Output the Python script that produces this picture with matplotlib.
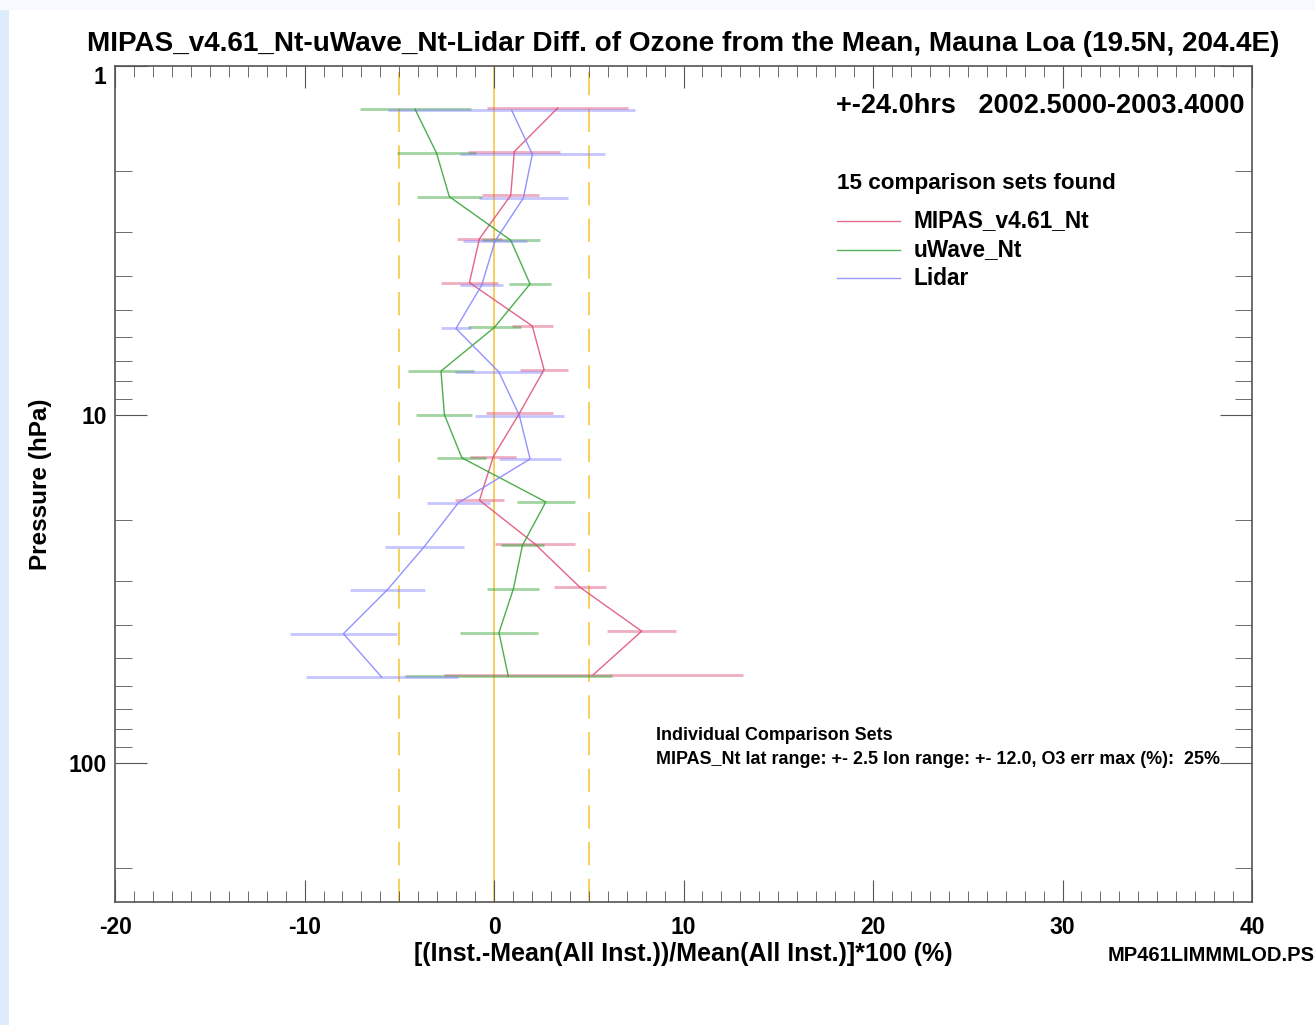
import numpy as np
import matplotlib
matplotlib.use("Agg")
import matplotlib.pyplot as plt
from matplotlib.patches import Rectangle
from matplotlib.ticker import MultipleLocator, LogLocator, NullFormatter, FixedLocator

plt.rcParams['font.family'] = ['Liberation Sans', 'DejaVu Sans']
plt.rcParams['font.weight'] = 'bold'
plt.rcParams['axes.unicode_minus'] = False

# pressure levels (hPa) for each instrument (they differ very slightly)
p_mipas = [1.32, 1.76, 2.35, 3.13, 4.18, 5.57, 7.43, 9.91, 13.2, 17.6, 23.5, 31.3, 41.8, 55.7]
p_uwave = [1.33, 1.78, 2.37, 3.16, 4.22, 5.62, 7.50, 10.0, 13.3, 17.8, 23.7, 31.6, 42.2, 56.2]
p_lidar = [1.34, 1.79, 2.39, 3.18, 4.25, 5.66, 7.55, 10.07, 13.4, 17.9, 23.9, 31.8, 42.5, 56.6]

# % difference from the mean, with half-width of the error bar
mipas = [3.36, 1.07, 0.88, -0.77, -1.30, 2.02, 2.64, 1.34, -0.04, -0.77, 2.16, 4.54, 7.79, 5.24]
mipas_err = [3.72, 2.43, 1.50, 1.21, 1.52, 1.07, 1.25, 1.78, 1.21, 1.28, 2.11, 1.38, 1.82, 7.90]

uwave = [-4.17, -3.03, -2.36, 0.88, 1.90, 0.02, -2.80, -2.62, -1.70, 2.73, 1.50, 1.02, 0.26, 0.75]
uwave_err = [2.93, 2.10, 1.72, 1.52, 1.12, 1.39, 1.76, 1.48, 1.29, 1.52, 1.14, 1.37, 2.07, 5.47]

lidar = [0.93, 2.02, 1.55, 0.05, -0.65, -2.01, 0.26, 1.34, 1.90, -1.88, -3.68, -5.63, -7.95, -5.93]
lidar_err = [6.50, 3.84, 2.37, 1.71, 1.14, 0.77, 2.33, 2.35, 1.63, 1.65, 2.08, 1.98, 2.81, 4.02]

series = [
    ("MIPAS_v4.61_Nt", p_mipas, mipas, mipas_err, "#dd4c72"),
    ("uWave_Nt", p_uwave, uwave, uwave_err, "#2ea02e"),
    ("Lidar", p_lidar, lidar, lidar_err, "#8080ff"),
]

fig = plt.figure(figsize=(13.15, 10.25), dpi=100)
fig.patch.set_facecolor("white")
# light blue strip at the left edge, pale band at the top
fig.patches.append(Rectangle((0, 0), 0.007, 1, transform=fig.transFigure,
                             facecolor="#dcecfb", edgecolor="none", zorder=0))
fig.patches.append(Rectangle((0, 0.99), 1, 0.01, transform=fig.transFigure,
                             facecolor="#f6f9fd", edgecolor="none", zorder=0))

ax = fig.add_axes([0.0875, 0.12, 0.8646, 0.8156])
ax.set_yscale("log")
ax.set_xlim(-20, 40)
ax.set_ylim(250, 1)

# reference lines
ax.axvline(0, color="#f7c740", lw=1.2, zorder=1)
for xv in (-5, 5):
    ax.axvline(xv, color="#f7c740", lw=1.2, ls=(0, (14, 8)), zorder=1)

for name, p, vals, errs, col in series:
    v = np.array(vals)
    e = np.array(errs)
    ax.hlines(p, v - e, v + e, color=col, lw=2.0, alpha=0.45, zorder=2)
    ax.plot(v, p, color=col, lw=1.0, alpha=0.85, zorder=3)

# ticks, IDL-ish
ax.xaxis.set_major_locator(MultipleLocator(10))
ax.xaxis.set_minor_locator(MultipleLocator(1))
ax.yaxis.set_major_locator(FixedLocator([1, 10, 100]))
ax.yaxis.set_minor_locator(LogLocator(base=10, subs=np.arange(2, 10)))
ax.yaxis.set_minor_formatter(NullFormatter())
ax.set_yticklabels(["1", "10", "100"])
ax.tick_params(which="both", direction="in", top=True, right=True, colors="#555555")
ax.tick_params(axis="x", which="major", length=16, labelsize=16.5, labelcolor="black", pad=10)
ax.tick_params(axis="x", which="minor", length=8)
ax.tick_params(axis="y", which="major", length=23, labelsize=16.5, labelcolor="black", pad=6)
ax.tick_params(axis="y", which="minor", length=12)
for lab in ax.get_xticklabels() + ax.get_yticklabels():
    lab.set_fontweight("bold")
# IDL puts the top label a little below the axis corner
ax.get_yticklabels()[0].set_verticalalignment("top")
for s in ax.spines.values():
    s.set_color("#555555")
    s.set_linewidth(1.2)

ax.set_xlabel("[(Inst.-Mean(All Inst.))/Mean(All Inst.)]*100 (%)", fontsize=18,
              fontweight="bold", labelpad=2)
ax.set_ylabel("Pressure (hPa)", fontsize=17.5, fontweight="bold", labelpad=12)
ax.set_title("MIPAS_v4.61_Nt-uWave_Nt-Lidar Diff. of Ozone from the Mean, Mauna Loa (19.5N, 204.4E)",
             fontsize=20.1, fontweight="bold", pad=11)

# annotation block, top right
ax.text(0.9935, 0.9525, "+-24.0hrs   2002.5000-2003.4000", transform=ax.transAxes,
        ha="right", va="center", fontsize=19.5, fontweight="bold")
ax.text(0.635, 0.859, "15 comparison sets found", transform=ax.transAxes,
        ha="left", va="center", fontsize=16.2, fontweight="bold")
for i, (name, p, vals, errs, col) in enumerate(series):
    yy = 0.815 - i * 0.0345
    ax.plot([0.635, 0.69], [yy, yy], transform=ax.transAxes, color=col, lw=1.0, alpha=0.8)
    ax.text(0.702, yy, name, transform=ax.transAxes, ha="left", va="center",
            fontsize=16.3, fontweight="bold")

ax.text(0.476, 0.199, "Individual Comparison Sets", transform=ax.transAxes,
        ha="left", va="center", fontsize=12.9, fontweight="bold")
ax.text(0.476, 0.171, "MIPAS_Nt lat range: +- 2.5 lon range: +- 12.0, O3 err max (%):  25%",
        transform=ax.transAxes, ha="left", va="center", fontsize=12.9, fontweight="bold")

fig.text(0.9995, 0.068, "MP461LIMMMLOD.PS", ha="right", va="center",
         fontsize=14.5, fontweight="bold")

fig.savefig("out.png", dpi=100, facecolor=fig.get_facecolor())
